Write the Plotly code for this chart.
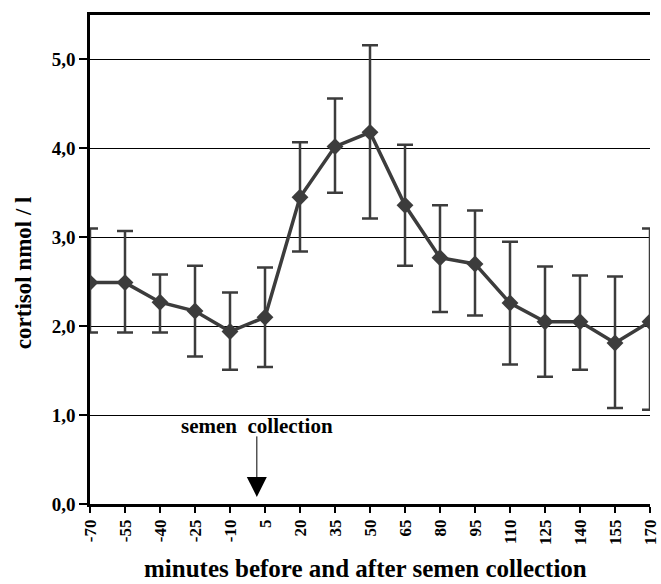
import plotly.graph_objects as go

minutes = [-70, -55, -40, -25, -10, 5, 20, 35, 50, 65, 80, 95, 110, 125, 140, 155, 170]
cortisol = [2.49, 2.49, 2.27, 2.17, 1.94, 2.10, 3.45, 4.02, 4.18, 3.36, 2.77, 2.70, 2.26, 2.05, 2.05, 1.81, 2.05]
err_plus = [0.61, 0.58, 0.31, 0.51, 0.44, 0.56, 0.62, 0.54, 0.98, 0.68, 0.59, 0.60, 0.69, 0.62, 0.52, 0.75, 1.05]
err_minus = [0.56, 0.56, 0.34, 0.51, 0.43, 0.56, 0.61, 0.52, 0.97, 0.68, 0.61, 0.58, 0.69, 0.62, 0.54, 0.73, 0.99]

y_ticks = [0, 1, 2, 3, 4, 5]
y_tick_labels = ["0,0", "1,0", "2,0", "3,0", "4,0", "5,0"]
x_ticks = minutes
collection_time = 1.5

dark = "#3c3c3c"
font_family = "Liberation Serif"

fig = go.Figure()
fig.add_trace(go.Scatter(
    x=minutes, y=cortisol,
    mode="lines+markers",
    line=dict(color=dark, width=3.5),
    marker=dict(symbol="diamond", size=13, color=dark),
    error_y=dict(type="data", symmetric=False, array=err_plus, arrayminus=err_minus,
                 color=dark, thickness=2.5, width=8),
    showlegend=False,
))

fig.add_annotation(x=collection_time, y=0.88, text="<b>semen  collection</b>", showarrow=False,
                   xanchor="center", yanchor="middle",
                   font=dict(family=font_family, size=21, color="black"))
fig.add_annotation(x=collection_time, y=0.08, ax=0, ay=-62, text="", showarrow=True,
                   arrowhead=2, arrowsize=4, arrowwidth=1, arrowcolor="black")

# axis titles as annotations for exact placement
fig.add_annotation(xref="paper", yref="paper", x=(22 - 90) / 570, y=(504 - 273) / 489,
                   text="<b>cortisol nmol / l</b>", showarrow=False, textangle=-90,
                   xanchor="center", yanchor="middle",
                   font=dict(family=font_family, size=23, color="black"))
fig.add_annotation(xref="paper", yref="paper", x=(370 - 90) / 570, y=(504 - 568) / 489,
                   text="<b>minutes before and after semen collection</b>", showarrow=False,
                   xanchor="center", yanchor="middle",
                   font=dict(family=font_family, size=25, color="black"))

fig.update_layout(
    width=661, height=584,
    margin=dict(l=90, r=1, t=15, b=80),
    paper_bgcolor="white", plot_bgcolor="white",
    font=dict(family=font_family, color="black"),
    xaxis=dict(
        range=[-70, 170], tickmode="array", tickvals=x_ticks,
        ticktext=["<b>%d</b>" % v for v in x_ticks], tickangle=-90,
        tickfont=dict(family=font_family, size=17, color="black"),
        ticklabeloverflow="allow",
        showgrid=False, zeroline=False,
        showline=True, linecolor="black", linewidth=2.5, mirror=True,
        ticks="outside", ticklen=6, tickwidth=1.5, tickcolor="black",
    ),
    yaxis=dict(
        range=[0, 5.5], tickmode="array", tickvals=y_ticks,
        ticktext=["<b>%s</b>" % t for t in y_tick_labels],
        tickfont=dict(family=font_family, size=19, color="black"),
        showgrid=True, gridcolor="black", gridwidth=1, zeroline=False,
        showline=True, linecolor="black", linewidth=2.5,
        ticks="outside", ticklen=8, tickwidth=1.5, tickcolor="black",
    ),
)

fig.write_html("out.html")
